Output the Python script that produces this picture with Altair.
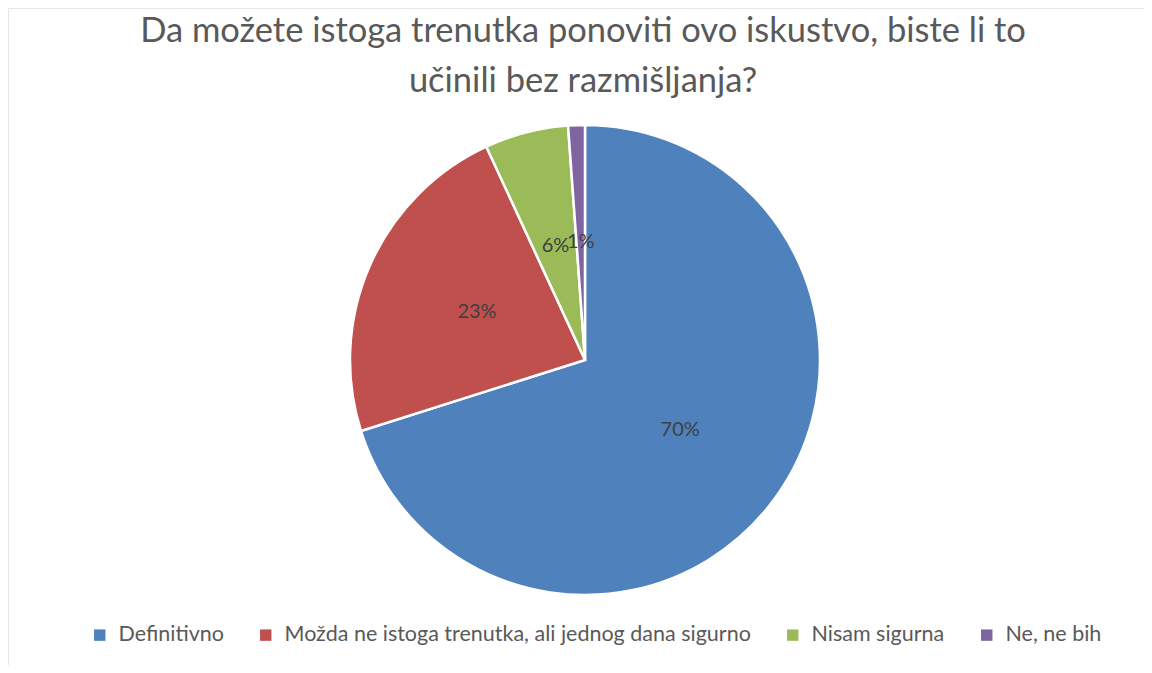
import altair as alt
import pandas as pd

categories = ["Definitivno", "Možda ne istoga trenutka, ali jednog dana sigurno", "Nisam sigurna", "Ne, ne bih"]
counts = [61, 20, 5, 1]
colors = ["#4F81BD", "#C0504D", "#9BBB59", "#8064A2"]
title_lines = ["Da možete istoga trenutka ponoviti ovo iskustvo, biste li to", "učinili bez razmišljanja?"]

total = sum(counts)
df = pd.DataFrame({
    "cat": categories,
    "count": counts,
    "order": list(range(len(categories))),
    "label": [f"{round(c / total * 100)}%" for c in counts],
})

FONT = "Lato"
W, H = 1136, 657
CX, CY, R = 577, 352, 235

base = alt.Chart(df).encode(
    theta=alt.Theta("count:Q", stack=True),
    order=alt.Order("order:Q"),
)

pie = base.mark_arc(outerRadius=R, stroke="white", strokeWidth=2.5).encode(
    x=alt.value(CX), y=alt.value(CY),
    color=alt.Color(
        "cat:N",
        scale=alt.Scale(domain=categories, range=colors),
        sort=categories,
        legend=alt.Legend(
            title=None, orient="none", direction="horizontal",
            legendX=81, legendY=616,
            symbolType="square", symbolSize=130, symbolStrokeWidth=0,
            labelFont=FONT, labelFontSize=21.5, labelColor="#595959",
            columnPadding=31, labelOffset=8, labelLimit=800,
        ),
    ),
)

labels = base.mark_text(radius=118, font=FONT, fontSize=20, color="#404040").encode(
    x=alt.value(CX), y=alt.value(CY),
    text="label:N",
)

title_df = pd.DataFrame({"t": [title_lines]})
title = alt.Chart(title_df).mark_text(
    font=FONT, fontSize=34.5, color="#595959", align="center", baseline="alphabetic", lineHeight=50,
).encode(x=alt.value(575), y=alt.value(34), text="t")

chart = alt.layer(pie, labels, title).properties(
    width=W, height=H, autosize=alt.AutoSizeParams(type="none"), padding=0,
).configure_view(stroke="#E6E6E6", strokeWidth=1)

chart.save("out.html", embed_options={"renderer": "svg", "actions": False})
